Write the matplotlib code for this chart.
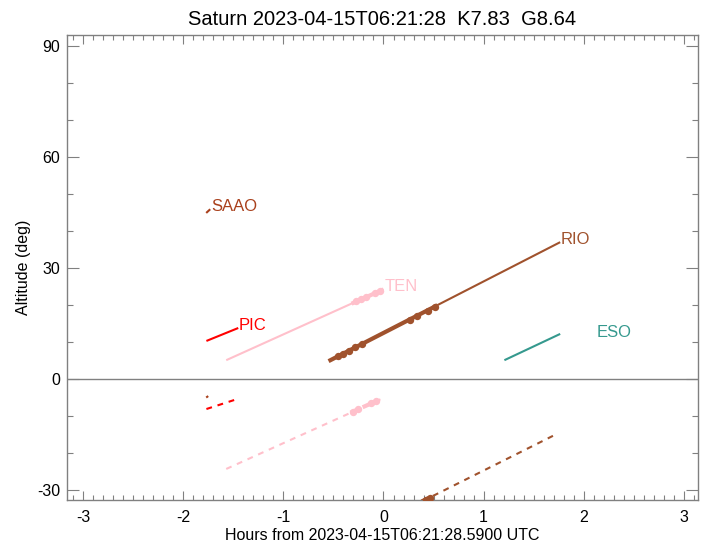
import matplotlib
matplotlib.use("Agg")
import matplotlib.pyplot as plt
from matplotlib.ticker import MultipleLocator

plt.rcParams['font.family'] = ['Liberation Sans', 'DejaVu Sans']

title = "Saturn 2023-04-15T06:21:28  K7.83  G8.64"
xlabel = "Hours from 2023-04-15T06:21:28.5900 UTC"
ylabel = "Altitude (deg)"

stations = ["SAAO", "PIC", "TEN", "RIO", "ESO"]
colors = {"SAAO": "#A9401C", "PIC": "#FF0000", "TEN": "#FFC0CB",
          "RIO": "#A0522D", "ESO": "#35998E"}

# upper (solid) tracks: start/end hour, start/end altitude
up_x = {"SAAO": [-1.77, -1.73], "PIC": [-1.768, -1.45], "TEN": [-1.57, 0.0],
        "RIO": [-0.534, 1.764], "ESO": [1.207, 1.764]}
up_y = {"SAAO": [44.9, 45.9], "PIC": [10.3, 13.8], "TEN": [5.1, 24.3],
        "RIO": [5.1, 37.0], "ESO": [5.1, 12.2]}

# lower (dashed) tracks
lo_x = {"SAAO": [-1.77, -1.75], "PIC": [-1.768, -1.46], "TEN": [-1.57, 0.0],
        "RIO": [0.39, 1.725]}
lo_y = {"SAAO": [-5.0, -4.6], "PIC": [-8.1, -5.4], "TEN": [-24.3, -5.1],
        "RIO": [-33.0, -14.9]}

# thick highlighted portions
thick_up_x = {"TEN": [-0.30, -0.02], "RIO": [-0.53, 0.52]}
thick_up_y = {"TEN": [20.6, 24.0], "RIO": [5.1, 19.7]}
thick_lo_x = {"TEN": [-0.33, -0.05], "RIO": [0.38, 0.50]}
thick_lo_y = {"TEN": [-9.1, -5.7], "RIO": [-33.1, -31.5]}

# markers
mk_up_x = {"TEN": [-0.27, -0.22, -0.17, -0.08, -0.03],
           "RIO": [-0.45, -0.40, -0.34, -0.28, -0.21, 0.26, 0.33, 0.44, 0.51]}
mk_up_y = {"TEN": [21.0, 21.6, 22.2, 23.3, 23.9],
           "RIO": [6.2, 6.9, 7.7, 8.6, 9.5, 16.0, 17.0, 18.5, 19.5]}
mk_lo_x = {"TEN": [-0.30, -0.25, -0.12, -0.07], "RIO": [0.42, 0.46]}
mk_lo_y = {"TEN": [-8.8, -8.2, -6.6, -6.0], "RIO": [-32.6, -32.1]}

# labels
lab_x = {"SAAO": -1.73, "PIC": -1.45, "TEN": 0.0, "RIO": 1.764, "ESO": 2.12}
lab_y = {"SAAO": 45.9, "PIC": 13.8, "TEN": 24.3, "RIO": 37.0, "ESO": 11.9}

xticks = [-3, -2, -1, 0, 1, 2, 3]
yticks = [-30, 0, 30, 60, 90]

fig = plt.figure(figsize=(7.08, 5.46), dpi=100)
ax = fig.add_axes([0.0946, 0.0842, 0.8913, 0.8517])
ax.set_xlim(-3.16, 3.14)
ax.set_ylim(-32.7, 93.0)

ax.axhline(0, color="#808080", lw=1.0, zorder=1)

for s in stations:
    c = colors[s]
    ax.plot(up_x[s], up_y[s], color=c, lw=1.5, solid_capstyle='butt', zorder=3)
    if s in lo_x:
        ax.plot(lo_x[s], lo_y[s], color=c, lw=1.5, linestyle=(0, (2.8, 2.8)), zorder=3)
    if s in thick_up_x:
        ax.plot(thick_up_x[s], thick_up_y[s], color=c, lw=3.0, zorder=3)
        ax.plot(mk_up_x[s], mk_up_y[s], 'o', color=c, ms=5.3, mew=0, zorder=4)
    if s in thick_lo_x:
        ax.plot(thick_lo_x[s], thick_lo_y[s], color=c, lw=3.0,
                linestyle=(0, (2.0, 1.2)), zorder=3)
        ax.plot(mk_lo_x[s], mk_lo_y[s], 'o', color=c, ms=5.3, mew=0, zorder=4)
    ax.annotate(s, (lab_x[s], lab_y[s]), xytext=(0.5, -1.5), textcoords='offset points',
                color=c, fontsize=12, ha='left', va='baseline')

ax.set_xticks(xticks)
ax.set_yticks(yticks)
ax.set_xticklabels([str(v) for v in xticks])
ax.set_yticklabels([str(v) for v in yticks])
ax.xaxis.set_minor_locator(MultipleLocator(0.1))
ax.yaxis.set_minor_locator(MultipleLocator(10))

for sp in ax.spines.values():
    sp.set_color("#808080")
    sp.set_linewidth(1.0)
ax.tick_params(which='both', direction='in', top=True, right=True,
               color="#808080", width=0.8, labelsize=11.5, labelcolor='black')
ax.tick_params(axis='x', which='major', length=6.5, pad=7)
ax.tick_params(axis='x', which='minor', length=3.5)
ax.tick_params(axis='y', which='major', length=8.5, pad=5)
ax.tick_params(axis='y', which='minor', length=4.3)

ax.set_xlabel(xlabel, fontsize=11.5, labelpad=2)
ax.set_ylabel(ylabel, fontsize=11.5, labelpad=4)
ax.set_title(title, fontsize=14.5, pad=7)

fig.savefig("out.png", dpi=100)
